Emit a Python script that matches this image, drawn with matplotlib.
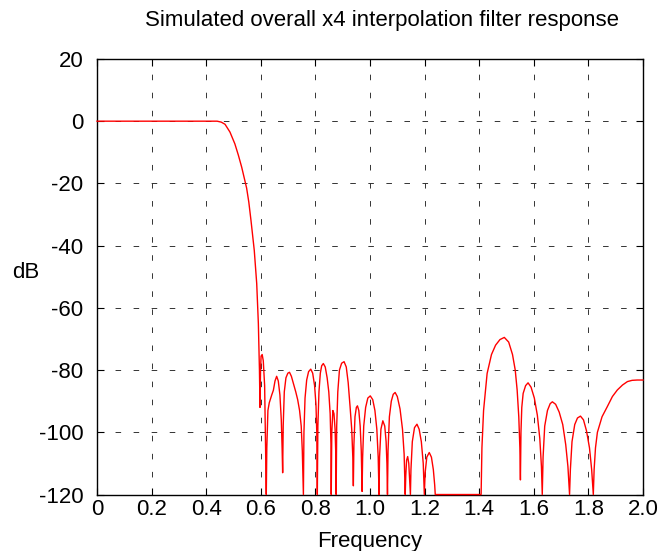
import matplotlib
matplotlib.use("Agg")
import matplotlib.pyplot as plt

# response, (frequency, dB) pairs
freq = [0.0, 0.44, 0.455, 0.469, 0.487, 0.505, 0.518, 0.530, 0.540, 0.548, 0.556, 0.564, 0.576, 0.585, 0.591, 0.595, 0.597,
        0.599, 0.601, 0.605, 0.609, 0.614, 0.620,
        0.622, 0.626, 0.631, 0.640, 0.646, 0.652, 0.658, 0.664, 0.670, 0.675, 0.678, 0.680,
        0.682, 0.686, 0.692, 0.699, 0.705, 0.712, 0.720, 0.728, 0.735, 0.742, 0.748, 0.752, 0.756,
        0.758, 0.762, 0.768, 0.775, 0.783, 0.790, 0.797, 0.802, 0.805, 0.807,
        0.809, 0.813, 0.818, 0.823, 0.829, 0.836, 0.843, 0.849, 0.854, 0.857, 0.858,
        0.860, 0.864, 0.868, 0.872, 0.875, 0.876,
        0.878, 0.882, 0.888, 0.896, 0.905, 0.913, 0.920, 0.927, 0.933, 0.937, 0.939,
        0.941, 0.945, 0.950, 0.954, 0.959, 0.964, 0.968, 0.971,
        0.973, 0.977, 0.984, 0.992, 1.001, 1.010, 1.018, 1.025, 1.030, 1.033,
        1.035, 1.040, 1.047, 1.054, 1.059, 1.062, 1.064,
        1.066, 1.071, 1.078, 1.085, 1.092, 1.100, 1.110, 1.119, 1.125, 1.129,
        1.131, 1.134, 1.138, 1.142, 1.145, 1.148,
        1.150, 1.155, 1.163, 1.172, 1.180, 1.188, 1.195, 1.199,
        1.202, 1.208, 1.217, 1.225, 1.232, 1.237, 1.239,
        1.407,
        1.410, 1.416, 1.429, 1.445, 1.460, 1.476, 1.492, 1.508, 1.522, 1.532, 1.539, 1.545, 1.549, 1.551,
        1.553, 1.556, 1.561, 1.570, 1.579, 1.590, 1.602, 1.613, 1.622, 1.628, 1.631,
        1.634, 1.640, 1.650, 1.660, 1.668, 1.680, 1.693, 1.706, 1.717, 1.725, 1.731,
        1.734, 1.740, 1.750, 1.760, 1.771, 1.782, 1.793, 1.804, 1.812, 1.818,
        1.821, 1.826, 1.833, 1.850, 1.869, 1.888, 1.906, 1.925, 1.943, 1.960, 1.979, 2.0]
db = [0, 0, -0.3, -1.0, -3.5, -7.3, -11, -14.8, -18.5, -21.5, -26, -31.9, -41.5, -52.2, -65, -80, -92,
      -80, -75.5, -75, -77, -85, -120,
      -105, -93, -90.5, -88, -86.5, -83.5, -82, -83.5, -88, -96, -105, -113,
      -98, -87, -82.5, -81, -80.7, -82, -84.5, -87, -89.5, -93, -98, -106, -120,
      -100, -89, -83.2, -80.5, -79.7, -81, -85, -91, -100, -120,
      -98, -87, -81, -78.6, -77.9, -79, -82.5, -87, -94, -104, -120,
      -100, -93, -94, -99, -108, -120,
      -98, -87, -80, -77.8, -77.3, -79, -84, -91.8, -99, -108, -117.2,
      -104, -95, -92, -91.5, -93, -98, -106, -119,
      -108, -98, -92, -89, -88.3, -89.5, -93, -99, -108, -120,
      -108, -99, -96.3, -98, -103, -110, -120,
      -106, -95, -90, -87.8, -87.2, -88.5, -92.5, -99, -107, -120,
      -114, -109, -107.8, -110, -115, -120,
      -112, -103, -98.5, -97.4, -99, -103, -110, -120,
      -113, -108, -106.5, -108, -112, -117, -120,
      -120,
      -105, -93, -81.1, -75, -72, -70.2, -69.5, -71, -75, -80, -86.4, -95, -105, -115.3,
      -100, -92, -87.5, -85, -84.1, -85.5, -89, -94.5, -102, -111, -120,
      -108, -98, -93, -90.8, -90.2, -91, -93.5, -97.5, -104, -111, -120,
      -112, -103, -97.5, -95.4, -94.8, -96, -99.5, -105, -112, -120,
      -112, -105, -100, -95, -91.8, -88.5, -86.4, -84.8, -83.7, -83.3, -83.2, -83.2]

xticks = [0, 0.2, 0.4, 0.6, 0.8, 1.0, 1.2, 1.4, 1.6, 1.8, 2.0]
xtick_labels = ["0", "0.2", "0.4", "0.6", "0.8", "1.0", "1.2", "1.4", "1.6", "1.8", "2.0"]
yticks = [-120, -100, -80, -60, -40, -20, 0, 20]

plt.rcParams['font.family'] = ['Liberation Sans', 'DejaVu Sans']
plt.rcParams['lines.scale_dashes'] = False
plt.rcParams['axes.unicode_minus'] = False

fig = plt.figure(figsize=(6.65, 5.51), dpi=100)
ax = fig.add_axes([0.1459, 0.1025, 0.8210, 0.7905])

ax.plot(freq, db, color='red', lw=1.0, clip_on=False, zorder=3)

ax.set_xlim(0, 2.0)
ax.set_ylim(-120, 20)
ax.set_xticks(xticks)
ax.set_xticklabels(xtick_labels)
ax.set_yticks(yticks)
ax.tick_params(direction='in', top=True, right=True, length=5, width=0.8,
               labelsize=16)
ax.tick_params(axis='x', pad=3)
ax.tick_params(axis='y', pad=10)
ax.grid(True, color='0.2', linestyle=(0, (4, 9)), linewidth=0.7)
for sp in ax.spines.values():
    sp.set_linewidth(1.0)

ax.set_title("Simulated overall x4 interpolation filter response", fontsize=16, pad=24, x=0.522)
ax.set_xlabel("Frequency", fontsize=16, labelpad=8)
ax.set_ylabel("dB", fontsize=16, rotation=0, va='center', ha='center')
ax.yaxis.set_label_coords(-0.130, 0.509)

fig.savefig("out.png", dpi=100)
